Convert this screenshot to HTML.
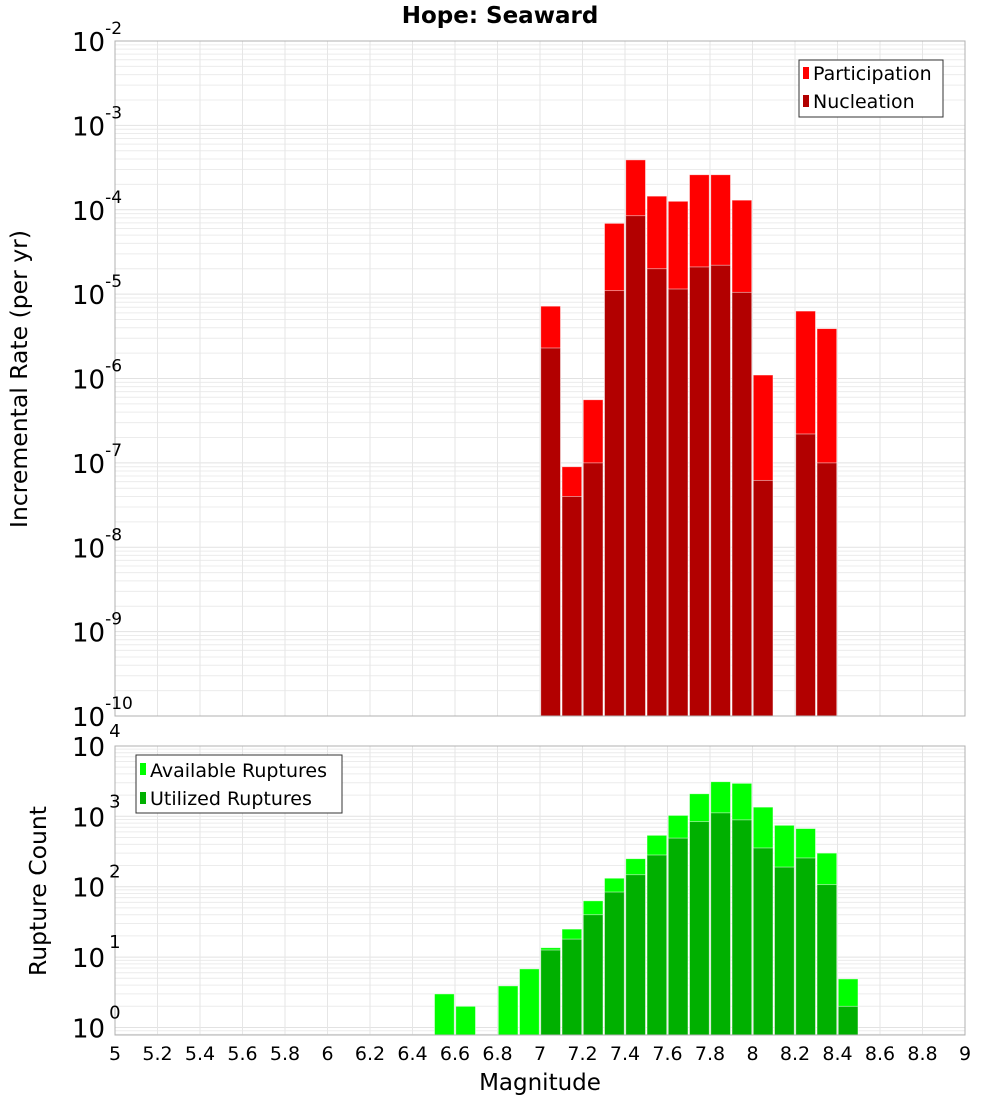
<!DOCTYPE html>
<html><head><meta charset="utf-8"><style>
body{margin:0;background:#fff;}
svg{display:block;font-family:"DejaVu Sans","Liberation Sans",sans-serif;}
</style></head><body>
<svg id="c" width="1000" height="1100">
<g id="plots"></g>
<text x="500" y="23" font-size="23" font-weight="bold" text-anchor="middle">Hope: Seaward</text>
<text x="0" y="0" transform="translate(27,379) rotate(-90)" font-size="23.5" text-anchor="middle">Incremental Rate (per yr)</text>
<text x="0" y="0" transform="translate(46,891) rotate(-90)" font-size="23.5" text-anchor="middle">Rupture Count</text>
<text x="540" y="1090" font-size="23" text-anchor="middle">Magnitude</text>
<g font-size="19">
<rect x="799" y="60" width="144" height="57" fill="#fff" stroke="#333"/>
<rect x="803" y="67" width="6" height="12" fill="#ff0000"/>
<text x="813" y="80">Participation</text>
<rect x="803" y="95" width="6" height="12" fill="#b20000"/>
<text x="813" y="108">Nucleation</text>
</g>
<g font-size="19">
<rect x="136" y="755" width="206" height="58" fill="#fff" stroke="#333"/>
<rect x="140" y="763" width="6" height="12" fill="#00ff00"/>
<text x="150" y="777">Available Ruptures</text>
<rect x="140" y="792" width="6" height="12" fill="#00b000"/>
<text x="150" y="805">Utilized Ruptures</text>
</g>
</svg>
<script>
const mags=[6.55,6.65,6.75,6.85,6.95,7.05,7.15,7.25,7.35,7.45,7.55,7.65,7.75,7.85,7.95,8.05,8.15,8.25,8.35,8.45];
const participation=[0,0,0,0,0,7.2e-6,9e-8,5.6e-7,6.9e-5,3.9e-4,1.45e-4,1.26e-4,2.6e-4,2.6e-4,1.3e-4,1.1e-6,0,6.3e-6,3.9e-6,0];
const nucleation=[0,0,0,0,0,2.3e-6,4e-8,1e-7,1.1e-5,8.5e-5,2e-5,1.15e-5,2.1e-5,2.2e-5,1.05e-5,6.2e-8,0,2.2e-7,1e-7,0];
const available=[3,2,0,3.9,6.8,13.6,25,63,132,250,537,1030,2090,3100,2940,1350,745,670,300,4.9];
const utilized=[0,0,0,0,0,12.6,18,40,84,148,282,490,840,1120,890,355,190,256,107,2];
const xTicks=[5,5.2,5.4,5.6,5.8,6,6.2,6.4,6.6,6.8,7,7.2,7.4,7.6,7.8,8,8.2,8.4,8.6,8.8,9];
const topExps=[-2,-3,-4,-5,-6,-7,-8,-9,-10];
const botExps=[4,3,2,1,0];

const NS="http://www.w3.org/2000/svg";
const svg=document.getElementById('plots');
function el(tag,attrs,parent,text){const e=document.createElementNS(NS,tag);for(const k in attrs)e.setAttribute(k,attrs[k]);if(text!==undefined)e.textContent=text;(parent||svg).appendChild(e);return e;}
const L=115,R=965;
const x=v=>L+(v-5)/4*(R-L);
const T1=41,B1=716,yTop=v=>T1+(-2-Math.log10(v))*(B1-T1)/8;
const T2=746,B2=1035,yBot=v=>1027.5-70.4*Math.log10(v);

function grid(T,B,yf,lo,hi,name){
  const g=el('g',{});
  
  
  for(let e=lo;e<hi;e++)for(let m=1;m<10;m++){const y=yf(m*Math.pow(10,e));if(y<T||y>B)continue;el('line',{x1:L,x2:R,y1:y,y2:y,stroke:m==1?'#e2e2e2':'#ececec','stroke-width':1},g);}
  xTicks.forEach(t=>{el('line',{x1:x(t),x2:x(t),y1:T,y2:B,stroke:'#e6e6e6','stroke-width':1},g);});
}
grid(T1,B1,yTop,-10,-2,'top-grid');
grid(T2,B2,yBot,-1,4,'bottom-grid');

const bw=(x(0.1)-x(0))-1.5;
function bars(vals,yf,B,color,name){
  vals.forEach((v,i)=>{if(!v)return;const y=Math.max(yf(v),0);
    const r=el('rect',{x:x(mags[i]-0.05)+0.75,y:y,width:bw,height:B-y,fill:color,stroke:'#fff','stroke-opacity':0.6,'stroke-width':0.8});
    
    });
}
bars(participation,yTop,B1,'#ff0000','participation');
bars(nucleation,yTop,B1,'#b20000','nucleation');
bars(available,yBot,B2,'#00ff00','available');
bars(utilized,yBot,B2,'#00b000','utilized');

el('rect',{x:L,y:T1,width:R-L,height:B1-T1,fill:'none',stroke:'#b0b0b0'});
el('rect',{x:L,y:T2,width:R-L,height:B2-T2,fill:'none',stroke:'#b0b0b0'});

topExps.forEach(e=>{const y=yTop(Math.pow(10,e));
  const t=el('text',{x:72,y:y+10,'font-size':26,fill:'#000'});
  
  el('tspan',{},t,'10');el('tspan',{dy:-17,'font-size':17},t,String(e));});
botExps.forEach(e=>{const y=yBot(Math.pow(10,e));
  const t=el('text',{x:72,y:y+10,'font-size':26,fill:'#000'});
  
  el('tspan',{},t,'10');el('tspan',{dx:4,dy:-19,'font-size':18},t,String(e));});
xTicks.forEach(t=>{const tx=el('text',{x:x(t),y:1060,'font-size':19,'text-anchor':'middle',fill:'#000'},svg,String(t));
  });
</script>
</body></html>
